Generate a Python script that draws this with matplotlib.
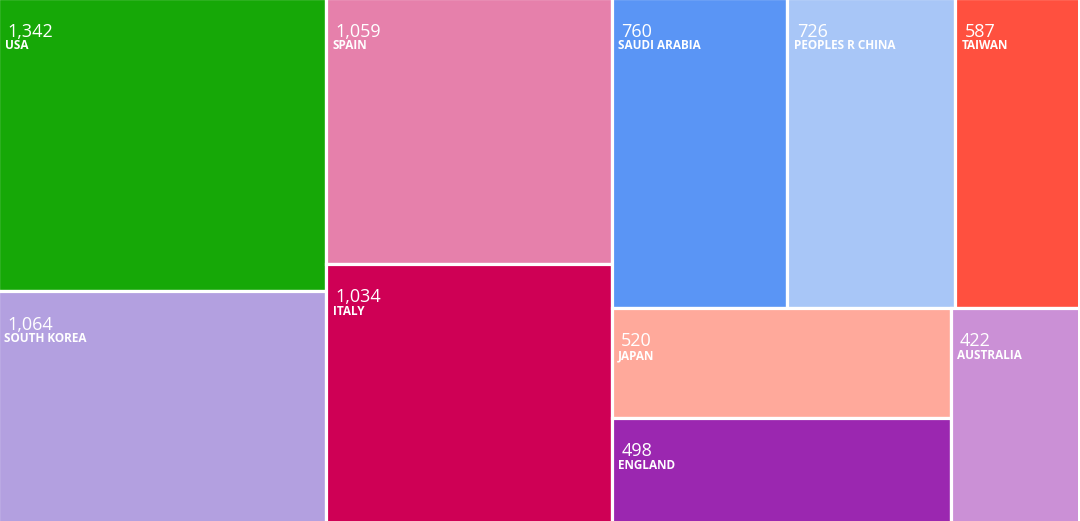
import matplotlib
matplotlib.use("Agg")
import matplotlib.pyplot as plt
from matplotlib.patches import Rectangle
import math

countries = ["USA", "SOUTH KOREA", "SPAIN", "ITALY", "SAUDI ARABIA",
             "PEOPLES R CHINA", "TAIWAN", "JAPAN", "ENGLAND", "AUSTRALIA"]
counts = [1342, 1064, 1059, 1034, 760, 726, 587, 520, 498, 422]
colors = ["#16a807", "#b3a0e0", "#e680ab", "#cf0055", "#5a95f5",
          "#a8c6f7", "#ff503f", "#ffa99b", "#9b27b0", "#cb90d6"]

W, H = 1080, 521


def dice(vals, total, x0, y0, x1, y1, out):
    # split horizontally
    x = x0
    for v in vals:
        w = (x1 - x0) * v / total
        out.append((x, y0, w, y1 - y0))
        x += w


def slice_(vals, total, x0, y0, x1, y1, out):
    # split vertically
    y = y0
    for v in vals:
        h = (y1 - y0) * v / total
        out.append((x0, y, x1 - x0, h))
        y += h


def squarify(values, x0, y0, x1, y1, ratio=(1 + math.sqrt(5)) / 2):
    # same scheme as d3.treemapSquarify
    rects = []
    n = len(values)
    value = float(sum(values))
    i0 = i1 = 0
    while i0 < n:
        dx, dy = x1 - x0, y1 - y0
        s = values[i1]
        i1 += 1
        mn = mx = s
        alpha = max(dy / dx, dx / dy) / (value * ratio)
        beta = s * s * alpha
        min_ratio = max(mx / beta, beta / mn)
        while i1 < n:
            v = values[i1]
            s += v
            mn, mx = min(mn, v), max(mx, v)
            beta = s * s * alpha
            new_ratio = max(mx / beta, beta / mn)
            if new_ratio > min_ratio:
                s -= v
                break
            min_ratio = new_ratio
            i1 += 1
        row = values[i0:i1]
        if dx < dy:
            ny = y0 + dy * s / value
            dice(row, s, x0, y0, x1, ny, rects)
            y0 = ny
        else:
            nx = x0 + dx * s / value
            slice_(row, s, x0, y0, nx, y1, rects)
            x0 = nx
        value -= s
        i0 = i1
    return rects


fig = plt.figure(figsize=(W / 100, H / 100), dpi=100)
ax = fig.add_axes([0, 0, 1, 1])
ax.set_xlim(0, W)
ax.set_ylim(H, 0)
ax.axis("off")

# the treemap runs a bit past the right edge and gets cut there
rects = squarify(counts, -2, -2, 1091, 523)
for (x, y, w, h), name, c, col in zip(rects, countries, counts, colors):
    ax.add_patch(Rectangle((x, y), w, h, facecolor=col, edgecolor="white",
                           linewidth=2.3))
    ax.text(x + 9.5, y + 38.7, f"{c:,}", color="white", fontsize=13,
            family="Open Sans", va="baseline", ha="left")
    ax.text(x + 6.5, y + 51.3, name, color="white", fontsize=8.5,
            fontweight="bold", family="Open Sans", va="baseline", ha="left")

ax.add_patch(Rectangle((W - 2, 0), 2, H, facecolor="white", edgecolor="none",
                       zorder=5))

fig.savefig("out.png", dpi=100)
